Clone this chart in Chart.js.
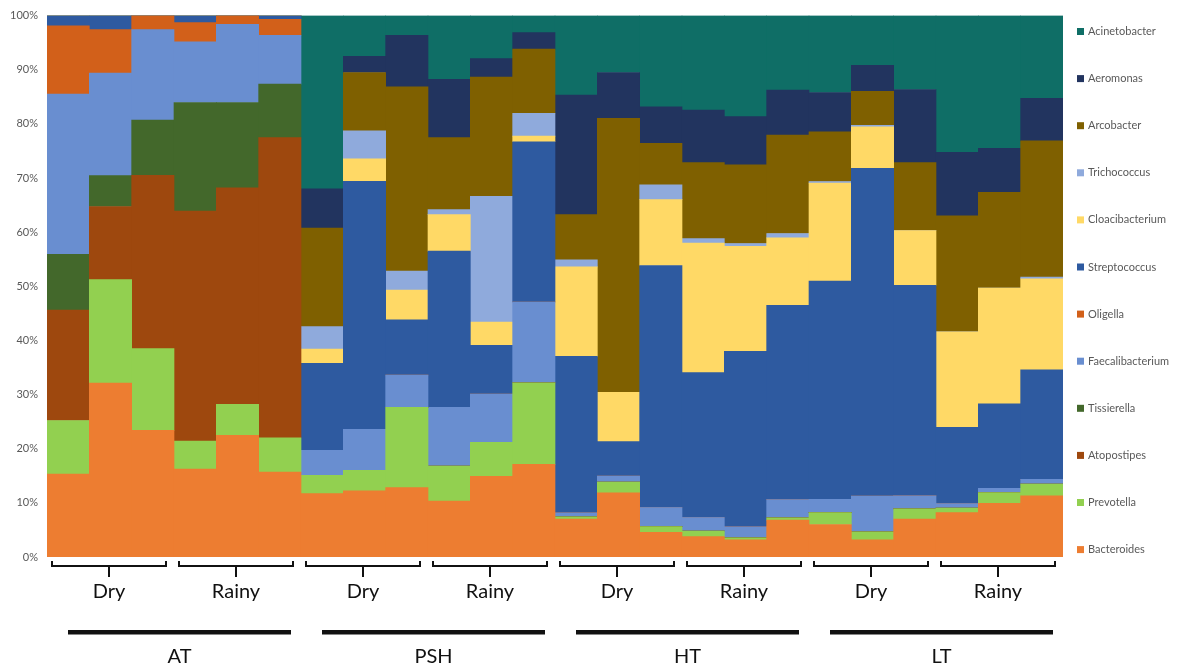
<!DOCTYPE html>
<html>
<head>
<meta charset="utf-8">
<script src="https://cdn.jsdelivr.net/npm/chart.js@4.4.1/dist/chart.umd.min.js"></script>
<style>
  html, body { margin: 0; padding: 0; background: #ffffff; }
  #wrap { width: 1180px; height: 670px; position: relative; }
</style>
</head>
<body>
<div id="wrap"><canvas id="c" width="1180" height="670"></canvas></div>
<script>
// ---- data ----
const sites = ["AT", "PSH", "HT", "LT"];
const seasons = ["Dry", "Rainy"];
const reps = 3;
const categories = [];
sites.forEach(s => seasons.forEach(se => { for (let r = 1; r <= reps; r++) categories.push(s + " " + se + " " + r); }));

const yTicks = [0, 10, 20, 30, 40, 50, 60, 70, 80, 90, 100];

// stacking order bottom -> top
const Bacteroides      = [15.3, 32.1, 23.4, 16.25, 22.45, 15.7, 11.7, 12.2, 12.8, 10.35, 14.9, 17.1, 7.0, 11.85, 4.55, 3.75, 3.15, 6.8, 6.0, 3.15, 7.0, 8.2, 9.9, 11.3];
const Prevotella       = [9.9, 19.1, 15.1, 5.15, 5.75, 6.3, 3.4, 3.8, 14.85, 6.45, 6.3, 15.05, 0.4, 2.0, 1.05, 1.05, 0.4, 0.45, 2.2, 1.5, 1.9, 0.85, 2.0, 2.15];
const Atopostipes      = [20.4, 13.5, 32.0, 42.45, 39.95, 55.45, 0, 0, 0, 0, 0, 0, 0, 0, 0, 0, 0, 0, 0, 0, 0, 0, 0, 0];
const Tissierella      = [10.3, 5.7, 10.2, 20.05, 15.75, 9.9, 0, 0, 0, 0, 0, 0, 0, 0, 0, 0, 0, 0, 0, 0, 0, 0, 0, 0];
const Faecalibacterium = [29.55, 18.95, 16.7, 11.2, 14.45, 9.0, 4.6, 7.55, 5.95, 10.85, 8.9, 14.95, 0.75, 1.1, 3.55, 2.5, 2.0, 3.35, 2.45, 6.6, 2.4, 0.8, 0.8, 0.9];
const Oligella         = [12.6, 8.0, 2.6, 3.55, 1.6, 2.95, 0, 0, 0, 0, 0, 0, 0, 0, 0, 0, 0, 0, 0, 0, 0, 0, 0, 0];
const Streptococcus    = [1.9, 2.6, 0, 1.3, 0, 0.7, 16.05, 45.8, 10.2, 28.85, 9.0, 29.6, 28.9, 6.35, 44.7, 26.75, 32.45, 35.9, 40.3, 60.55, 38.9, 14.1, 15.6, 20.2];
const Cloacibacterium  = [0, 0, 0, 0, 0, 0, 2.65, 4.15, 5.5, 6.75, 4.3, 1.05, 16.55, 9.1, 12.15, 23.95, 19.4, 12.45, 18.1, 7.65, 10.1, 17.6, 21.35, 16.85];
const Trichococcus     = [0, 0, 0, 0, 0, 0, 4.15, 5.2, 3.5, 0.9, 23.2, 4.2, 1.3, 0, 2.75, 0.8, 0.5, 0.8, 0.3, 0.3, 0, 0, 0, 0.3];
const Arcobacter       = [0, 0, 0, 0, 0, 0, 18.2, 10.75, 34.05, 13.3, 22.05, 11.85, 8.35, 50.6, 7.65, 14.05, 14.55, 18.2, 9.2, 6.25, 12.55, 21.45, 17.7, 25.15];
const Aeromonas        = [0, 0, 0, 0, 0, 0, 7.25, 3.0, 9.5, 10.8, 3.4, 3.05, 22.05, 8.45, 6.75, 9.7, 8.9, 8.3, 7.25, 4.8, 13.5, 11.7, 8.15, 7.85];
const Acinetobacter    = [0, 0, 0, 0, 0, 0, 32.0, 7.5, 3.65, 11.75, 7.95, 3.15, 14.7, 10.5, 16.85, 17.45, 18.65, 13.75, 14.2, 9.2, 13.65, 25.25, 24.5, 15.3];

const seriesNames = ["Bacteroides", "Prevotella", "Atopostipes", "Tissierella", "Faecalibacterium", "Oligella",
  "Streptococcus", "Cloacibacterium", "Trichococcus", "Arcobacter", "Aeromonas", "Acinetobacter"];
const seriesValues = [Bacteroides, Prevotella, Atopostipes, Tissierella, Faecalibacterium, Oligella,
  Streptococcus, Cloacibacterium, Trichococcus, Arcobacter, Aeromonas, Acinetobacter];
const seriesColors = ["#ED7D31", "#92D050", "#9E480E", "#43682B", "#698ED0", "#D2601A",
  "#2E5AA0", "#FFD966", "#8FAADC", "#7F6000", "#22345F", "#0F6E66"];

// 100% stacked: share of each bar total
const totals = categories.map((_, i) => seriesValues.reduce((s, arr) => s + arr[i], 0));
const datasets = seriesNames.map((n, k) => ({
  label: n,
  data: seriesValues[k].map((v, i) => v / totals[i] * 100),
  backgroundColor: seriesColors[k],
  borderWidth: 0,
  barPercentage: 1.0,
  categoryPercentage: 1.0,
  stack: "s"
}));

const TEXT_FONT = "Lato, 'Open Sans', sans-serif";

const decorPlugin = {
  id: "decor",
  afterDraw(chart) {
    const ctx = chart.ctx;
    const x = chart.scales.x;
    const bw = x.getPixelForValue(1) - x.getPixelForValue(0);
    ctx.save();
    // season brackets + labels
    ctx.strokeStyle = "#111111";
    ctx.fillStyle = "#111111";
    ctx.lineWidth = 2;
    ctx.font = "20px " + TEXT_FONT;
    ctx.textAlign = "center";
    ctx.textBaseline = "middle";
    let g = 0;
    sites.forEach((s, si) => {
      seasons.forEach((se) => {
        const i0 = g * reps, i1 = g * reps + reps - 1;
        const l = x.getPixelForValue(i0) - bw / 2 + 5;
        const r = x.getPixelForValue(i1) + bw / 2 - 8;
        const m = (l + r) / 2;
        ctx.beginPath();
        ctx.moveTo(l, 561); ctx.lineTo(l, 566); ctx.lineTo(r, 566); ctx.lineTo(r, 561);
        ctx.moveTo(m, 566); ctx.lineTo(m, 577);
        ctx.stroke();
        ctx.fillText(se, m, 592);
        g++;
      });
      // site lines + labels
      const s0 = si * seasons.length * reps;
      const s1 = s0 + seasons.length * reps - 1;
      const l = x.getPixelForValue(s0) - bw / 2 + 21;
      const r = x.getPixelForValue(s1) + bw / 2 - 10;
      ctx.fillRect(l, 630, r - l, 4.5);
      ctx.fillText(s, (l + r) / 2, 657);
    });
    // legend (reverse order, like the reference)
    ctx.textAlign = "left";
    ctx.font = "11px " + TEXT_FONT;
    for (let k = seriesNames.length - 1, j = 0; k >= 0; k--, j++) {
      const yy = 31.5 + j * 47.1;
      ctx.fillStyle = seriesColors[k];
      ctx.fillRect(1077, yy - 3.5, 7, 7);
      ctx.fillStyle = "#595959";
      ctx.fillText(seriesNames[k], 1088, yy);
    }
    ctx.restore();
  }
};

new Chart(document.getElementById("c"), {
  type: "bar",
  data: { labels: categories, datasets },
  options: {
    responsive: false,
    animation: false,
    layout: { padding: { left: 0, right: 117, top: 11, bottom: 113 } },
    plugins: { legend: { display: false }, tooltip: { enabled: false } },
    scales: {
      x: { stacked: true, display: false, offset: true },
      y: {
        stacked: true, min: 0, max: 100,
        grid: { display: false, drawTicks: false },
        border: { display: false },
        afterFit(scale) { scale.width = 47; },
        afterBuildTicks(scale) { scale.ticks = yTicks.map(v => ({ value: v })); },
        ticks: {
          padding: 9,
          color: "#595959",
          font: { family: TEXT_FONT, size: 11 },
          callback: v => v + "%"
        }
      }
    }
  },
  plugins: [decorPlugin]
});
</script>
</body>
</html>
